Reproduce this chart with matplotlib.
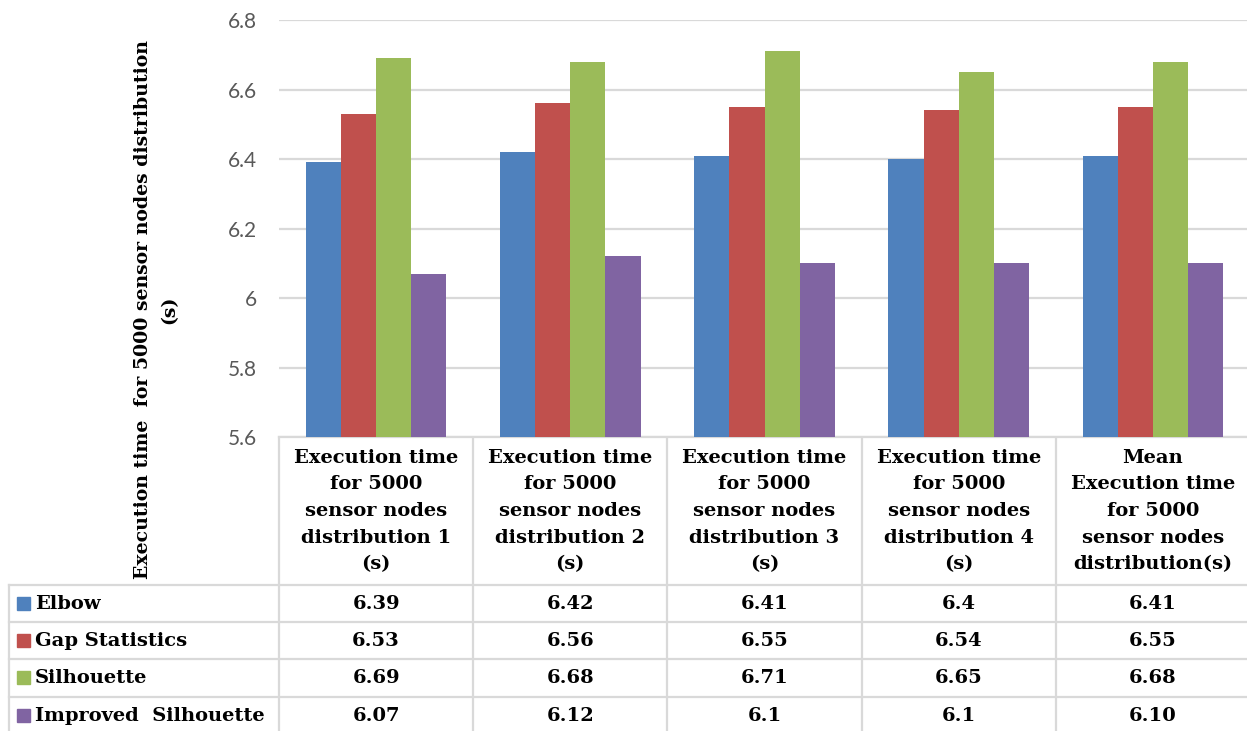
import matplotlib
matplotlib.use("Agg")
import matplotlib.pyplot as plt
from matplotlib.patches import Rectangle
import numpy as np

# ---- data -----------------------------------------------------------------
categories = [
    "Execution time\nfor 5000\nsensor nodes\ndistribution 1\n(s)",
    "Execution time\nfor 5000\nsensor nodes\ndistribution 2\n(s)",
    "Execution time\nfor 5000\nsensor nodes\ndistribution 3\n(s)",
    "Execution time\nfor 5000\nsensor nodes\ndistribution 4\n(s)",
    "Mean\nExecution time\nfor 5000\nsensor nodes\ndistribution(s)",
]
series_names = ["Elbow", "Gap Statistics", "Silhouette", "Improved  Silhouette"]
elbow = [6.39, 6.42, 6.41, 6.4, 6.41]
gap_statistics = [6.53, 6.56, 6.55, 6.54, 6.55]
silhouette = [6.69, 6.68, 6.71, 6.65, 6.68]
improved_silhouette = [6.07, 6.12, 6.1, 6.1, 6.10]
y_ticks = [5.6, 5.8, 6.0, 6.2, 6.4, 6.6, 6.8]
y_tick_labels = ["5.6", "5.8", "6", "6.2", "6.4", "6.6", "6.8"]
y_label = "Execution time  for 5000 sensor nodes distribution\n(s)"

series = [elbow, gap_statistics, silhouette, improved_silhouette]
colors = ["#4F81BD", "#C0504D", "#9BBB59", "#8064A2"]


def fmt(v, col):
    # the mean column is shown with two decimals, the others as entered
    return f"{v:.2f}" if col == len(categories) - 1 else f"{v:g}"


# ---- figure ---------------------------------------------------------------
W, H = 1247, 731
fig = plt.figure(figsize=(W / 100, H / 100), dpi=100)

ax_left, ax_top, ax_bottom = 279, 20, 437
cat_w = 194.2
n = len(categories)
ax = fig.add_axes([ax_left / W, 1 - ax_bottom / H,
                   n * cat_w / W, (ax_bottom - ax_top) / H])

x = np.arange(n)
bw = 0.181
for i, (vals, c) in enumerate(zip(series, colors)):
    ax.bar(x + (i - 1.5) * bw, vals, width=bw, color=c, zorder=3,
           edgecolor="none")

ax.set_xlim(-0.5, n - 0.5)
ax.set_ylim(5.6, 6.8)
ax.set_yticks(y_ticks)
ax.set_yticklabels(y_tick_labels, fontfamily="Lato", fontsize=15,
                   color="#595959")
ax.tick_params(axis="y", length=0, pad=16)
ax.set_xticks([])
ax.grid(axis="y", color="#D9D9D9", linewidth=1.6, zorder=0)
for s in ["left", "right", "top"]:
    ax.spines[s].set_visible(False)
ax.spines["bottom"].set_color("#D9D9D9")
ax.spines["bottom"].set_linewidth(1.6)

# ---- data table under the plot (pixel coordinates) ------------------------
ov = fig.add_axes([0, 0, 1, 1], zorder=-1)
ov.set_xlim(0, W)
ov.set_ylim(H, 0)
ov.axis("off")

line_kw = dict(color="#D9D9D9", linewidth=1.6)
tbl_left = 9
row_tops = [585, 622, 659, 697]
row_h = 37.5
col_edges = [ax_left + k * cat_w for k in range(n + 1)]

for k in range(n):
    ov.plot([col_edges[k], col_edges[k]], [ax_bottom, H], **line_kw)
ov.plot([tbl_left, tbl_left], [row_tops[0], H], **line_kw)
for yt in row_tops:
    ov.plot([tbl_left, W], [yt, yt], **line_kw)

text_kw = dict(fontfamily="DejaVu Serif", fontweight="bold", fontsize=14,
               color="black")

for k, cat in enumerate(categories):
    cx = col_edges[k] + cat_w / 2
    ov.text(cx, (ax_bottom + row_tops[0]) / 2, cat, ha="center",
            va="center", multialignment="center", linespacing=1.62, **text_kw)

for r, (name, vals, c) in enumerate(zip(series_names, series, colors)):
    cy = row_tops[r] + row_h / 2
    ov.add_patch(Rectangle((17, cy - 6.5), 13, 13, color=c))
    ov.text(35, cy, name, ha="left", va="center", **text_kw)
    for k, v in enumerate(vals):
        cx = col_edges[k] + cat_w / 2
        ov.text(cx, cy, fmt(v, k), ha="center", va="center", **text_kw)

ylabel_kw = dict(text_kw, fontsize=13.6)
fig.text(156 / W, 1 - 310 / H, y_label, rotation=90, ha="center",
         va="center", multialignment="center", linespacing=1.6, **ylabel_kw)

fig.savefig("out.png", dpi=100)
